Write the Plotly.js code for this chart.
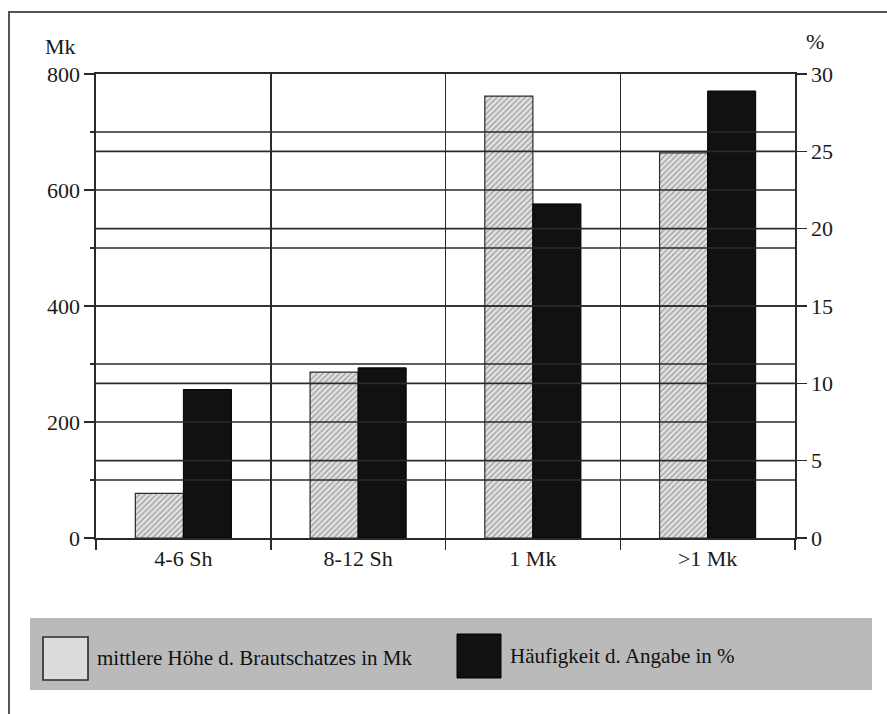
<!DOCTYPE html>
<html>
<head>
<meta charset="utf-8">
<script src="https://cdn.plot.ly/plotly-3.0.1.min.js"></script>
<style>
  html, body { margin: 0; padding: 0; background: #ffffff; }
  #chart { width: 887px; height: 714px; }
</style>
</head>
<body>
<div id="chart"></div>
<script>
// ---- data ----
const categories = ["4-6 Sh", "8-12 Sh", "1 Mk", ">1 Mk"];
const seriesNames = ["mittlere Höhe d. Brautschatzes in Mk", "Häufigkeit d. Angabe in %"];
const avgDowryMk = [77, 286, 762, 664];          // left axis (Mk)
const frequencyPct = [9.6, 11.0, 21.6, 28.9];    // right axis (%)
const leftTicks = [0, 200, 400, 600, 800];
const leftGrid = [100, 200, 300, 400, 500, 600, 700];
const rightTicks = [0, 5, 10, 15, 20, 25, 30];
const rightGrid = [5, 10, 15, 20, 25];
const leftUnit = "Mk";
const rightUnit = "%";

// ---- layout geometry ----
const FW = 887, FH = 714;
const M = { l: 96, r: 92, t: 74, b: 176 };
const PW = FW - M.l - M.r, PH = FH - M.t - M.b;
const px = x => (x - M.l) / PW;
const py = y => (FH - M.b - y) / PH;

const FONT = "Liberation Serif, Times New Roman, serif";
const INK = "#1a1a1a";
const LINE = "#2a2a2a";

const traces = [
  {
    type: "bar",
    name: seriesNames[0],
    x: categories,
    y: avgDowryMk,
    yaxis: "y",
    offsetgroup: "a",
    marker: {
      color: "#e2e2e2",
      line: { color: "#2a2a2a", width: 1.2 },
      pattern: { shape: "/", fgcolor: "#9a9a9a", bgcolor: "#e2e2e2", size: 4, solidity: 0.3 }
    },
    hoverinfo: "skip"
  },
  {
    type: "bar",
    name: seriesNames[1],
    x: categories,
    y: frequencyPct,
    yaxis: "y2",
    offsetgroup: "b",
    marker: { color: "#111111", line: { color: "#000000", width: 1 } },
    hoverinfo: "skip"
  }
];

const shapes = [];
// horizontal grid lines drawn above the bars
leftGrid.forEach(v => shapes.push({
  type: "line", layer: "above", xref: "paper", yref: "y",
  x0: 0, x1: 1, y0: v, y1: v, line: { color: LINE, width: 1.6 }
}));
rightGrid.forEach(v => shapes.push({
  type: "line", layer: "above", xref: "paper", yref: "y2",
  x0: 0, x1: 1, y0: v, y1: v, line: { color: LINE, width: 1.6 }
}));
// outer frame (top + left visible)
shapes.push({ type: "line", xref: "paper", yref: "paper", x0: px(8), x1: px(900), y0: py(12), y1: py(12), line: { color: "#555", width: 2 } });
shapes.push({ type: "line", xref: "paper", yref: "paper", x0: px(9), x1: px(9), y0: py(12), y1: py(730), line: { color: "#555", width: 2 } });
// legend panel
shapes.push({ type: "rect", xref: "paper", yref: "paper", x0: px(30), x1: px(872), y0: py(618), y1: py(690), fillcolor: "#bababa", line: { width: 0 } });
shapes.push({ type: "rect", xref: "paper", yref: "paper", x0: px(43), x1: px(88), y0: py(637), y1: py(680), fillcolor: "#dcdcdc", line: { color: "#2a2a2a", width: 1.6 } });
shapes.push({ type: "rect", xref: "paper", yref: "paper", x0: px(457), x1: px(501), y0: py(634), y1: py(678), fillcolor: "#111111", line: { color: "#000", width: 1 } });

const annotations = [
  { text: leftUnit, xref: "paper", yref: "paper", x: px(43), y: py(46), xanchor: "left", yanchor: "middle", showarrow: false, font: { family: FONT, size: 22, color: INK } },
  { text: rightUnit, xref: "paper", yref: "paper", x: px(804), y: py(41), xanchor: "left", yanchor: "middle", showarrow: false, font: { family: FONT, size: 22, color: INK } },
  { text: seriesNames[0], xref: "paper", yref: "paper", x: px(95), y: py(658), xanchor: "left", yanchor: "middle", showarrow: false, font: { family: FONT, size: 21, color: "#111" } },
  { text: seriesNames[1], xref: "paper", yref: "paper", x: px(508), y: py(656), xanchor: "left", yanchor: "middle", showarrow: false, font: { family: FONT, size: 21, color: "#111" } }
];

const layout = {
  width: FW, height: FH,
  margin: M,
  paper_bgcolor: "#ffffff",
  plot_bgcolor: "#ffffff",
  showlegend: false,
  barmode: "group",
  bargap: 0.45,
  bargroupgap: 0,
  font: { family: FONT, size: 22, color: INK },
  xaxis: {
    type: "category",
    range: [-0.5, 3.5],
    tickson: "boundaries",
    showgrid: true, gridcolor: LINE, gridwidth: 1.5,
    showline: true, linecolor: LINE, linewidth: 1.6, mirror: true,
    ticks: "outside", ticklen: 10, tickcolor: LINE, tickwidth: 1.5,
    tickfont: { family: FONT, size: 22, color: INK },
    fixedrange: true
  },
  yaxis: {
    range: [0, 800],
    tickvals: leftTicks,
    showgrid: false, zeroline: false,
    showline: true, linecolor: LINE, linewidth: 1.6,
    ticks: "outside", ticklen: 10, tickcolor: LINE, tickwidth: 1.5,
    minor: { tickvals: leftGrid.filter(v => leftTicks.indexOf(v) < 0), ticks: "outside", ticklen: 4, tickcolor: LINE },
    tickfont: { family: FONT, size: 22, color: INK },
    fixedrange: true
  },
  yaxis2: {
    range: [0, 30],
    overlaying: "y",
    side: "right",
    tickvals: rightTicks,
    showgrid: false, zeroline: false,
    showline: true, linecolor: LINE, linewidth: 1.6,
    ticks: "outside", ticklen: 10, tickcolor: LINE, tickwidth: 1.5,
    tickfont: { family: FONT, size: 22, color: INK },
    fixedrange: true
  },
  shapes: shapes,
  annotations: annotations
};

Plotly.newPlot("chart", traces, layout, { displayModeBar: false, staticPlot: true });
</script>
</body>
</html>
